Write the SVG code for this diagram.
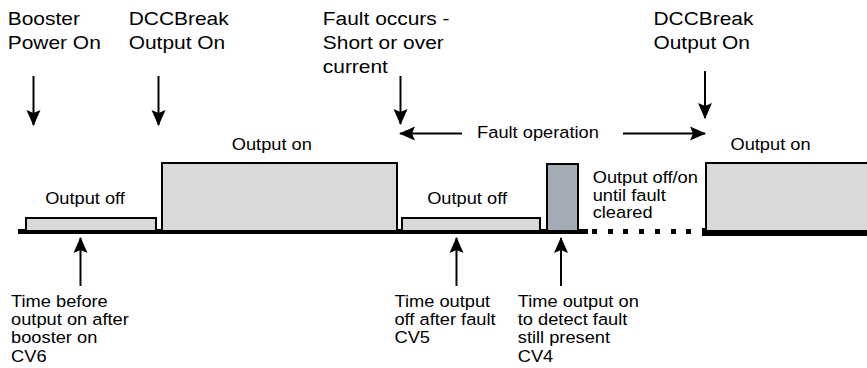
<svg xmlns="http://www.w3.org/2000/svg" width="867" height="368" viewBox="0 0 867 368">
<style>
text{font-family:"Liberation Sans",Arial,sans-serif;fill:#000}
.top{font-size:18.7px}
.lbl{font-size:16.3px}
.box{fill:#d9d9d9;stroke:#000;stroke-width:2}
.grey{fill:#a2abb6;stroke:#000;stroke-width:2}
.arr{stroke:#000;stroke-width:2;fill:none;marker-end:url(#ah)}
.base{fill:#000}
</style>
<defs>
<marker id="ah" markerUnits="userSpaceOnUse" markerWidth="16" markerHeight="16" viewBox="0 0 16 16" refX="15" refY="8" orient="auto">
<path d="M0,1 L16,8 L0,15 L3,8 Z" fill="#000"/>
</marker>
</defs>
<g id="baseline">
<rect class="base" x="18" y="229" width="570" height="5"/>
<rect class="base" x="592" y="229" width="5" height="5"/>
<rect class="base" x="608" y="229" width="5" height="5"/>
<rect class="base" x="623" y="229" width="5" height="5"/>
<rect class="base" x="639" y="229" width="5" height="5"/>
<rect class="base" x="655" y="229" width="5" height="5"/>
<rect class="base" x="671" y="229" width="5" height="5"/>
<rect class="base" x="686" y="229" width="5" height="5"/>
<rect class="base" x="702" y="228" width="165" height="8"/>
</g>
<g id="off1">
<rect class="box" x="26" y="218" width="130" height="13"/>
<text class="lbl" x="40.3" y="204" transform="scale(1.12 1)">Output off</text>
</g>
<g id="on1">
<rect class="box" x="162" y="163" width="235" height="68"/>
<text class="lbl" x="206.9" y="150" transform="scale(1.12 1)">Output on</text>
</g>
<g id="off2">
<rect class="box" x="402" y="218" width="138" height="13"/>
<text class="lbl" x="381.4" y="204" transform="scale(1.12 1)">Output off</text>
</g>
<g id="pulse">
<rect class="grey" x="547" y="164" width="31" height="67"/>
</g>
<g id="offon">
<text class="lbl" transform="scale(1.12 1)"><tspan x="529.2" y="183.3">Output off/on</tspan><tspan x="529.2" y="200.8">until fault</tspan><tspan x="529.2" y="218.3">cleared</tspan></text>
</g>
<g id="on2">
<rect class="box" x="706" y="163" width="170" height="68"/>
<text class="lbl" x="652.2" y="150.5" transform="scale(1.12 1)">Output on</text>
</g>
<g id="booster">
<text class="top" transform="scale(1.12 1)"><tspan x="6.9" y="25">Booster</tspan><tspan x="6.9" y="49">Power On</tspan></text>
</g>
<g id="dcc1">
<text class="top" transform="scale(1.12 1)"><tspan x="114.9" y="25">DCCBreak</tspan><tspan x="114.9" y="49">Output On</tspan></text>
</g>
<g id="fault">
<text class="top" transform="scale(1.12 1)"><tspan x="288.2" y="25">Fault occurs -</tspan><tspan x="288.2" y="49">Short or over</tspan><tspan x="288.2" y="72.7">current</tspan></text>
</g>
<g id="dcc2">
<text class="top" transform="scale(1.12 1)"><tspan x="583.4" y="25">DCCBreak</tspan><tspan x="583.4" y="49">Output On</tspan></text>
</g>
<g id="faultop">
<text class="lbl" x="426" y="138.5" transform="scale(1.12 1)">Fault operation</text>
</g>
<g id="cv6">
<text class="lbl" transform="scale(1.12 1)"><tspan x="9.9" y="306.7">Time before</tspan><tspan x="9.9" y="325">output on after</tspan><tspan x="9.9" y="343.3">booster on</tspan><tspan x="9.9" y="361.7">CV6</tspan></text>
</g>
<g id="cv5">
<text class="lbl" transform="scale(1.12 1)"><tspan x="352.2" y="306.7">Time output</tspan><tspan x="352.2" y="325">off after fault</tspan><tspan x="352.2" y="343.3">CV5</tspan></text>
</g>
<g id="cv4">
<text class="lbl" transform="scale(1.12 1)"><tspan x="462.3" y="306.7">Time output on</tspan><tspan x="462.3" y="325">to detect fault</tspan><tspan x="462.3" y="343.3">still present</tspan><tspan x="462.3" y="361.7">CV4</tspan></text>
</g>
<g id="connectors">
<path class="arr" d="M33.5,76 V125"/>
<path class="arr" d="M158.5,76 V125"/>
<path class="arr" d="M400.5,76 V124"/>
<path class="arr" d="M705,71 V118"/>
<path class="arr" d="M462,133.5 H400"/>
<path class="arr" d="M623,133.5 H705"/>
<path class="arr" d="M80.5,286 V238"/>
<path class="arr" d="M456.5,286 V238"/>
<path class="arr" d="M561,286 V238"/>
</g>
</svg>
